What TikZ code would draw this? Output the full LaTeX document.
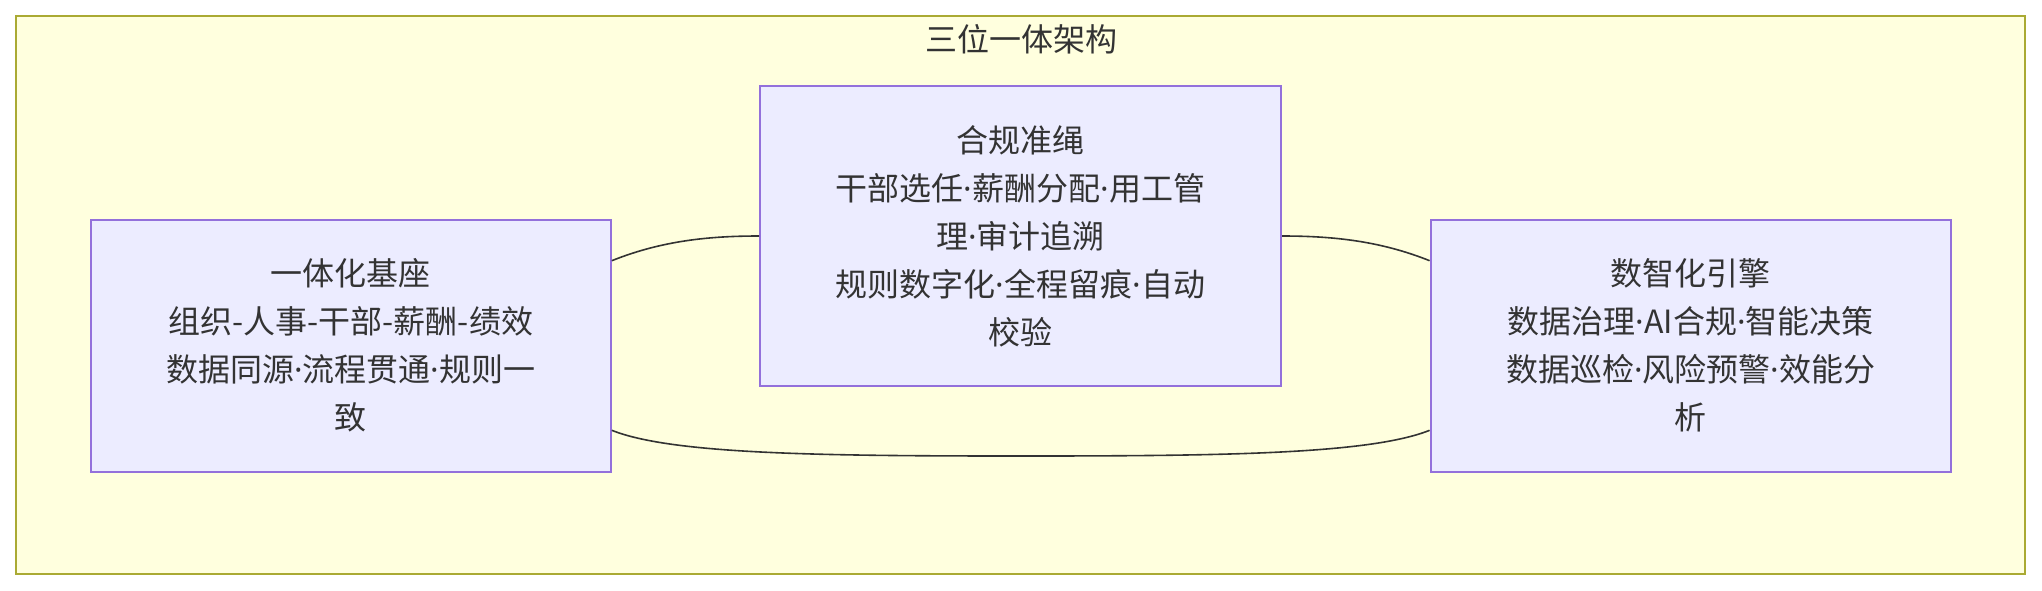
\documentclass[tikz,border=0pt]{standalone}
\usepackage{fontspec}
\setmainfont{Noto Sans CJK SC}
\newfontfamily\latinfont{Noto Sans}
\usepackage{xcolor}
\usetikzlibrary{positioning}
\definecolor{framefill}{HTML}{FFFFDE}
\definecolor{framedraw}{HTML}{AAAA33}
\definecolor{boxfill}{HTML}{ECECFF}
\definecolor{boxdraw}{HTML}{9370DB}
\definecolor{ink}{HTML}{333333}
\newcommand{\mdot}{{\latinfont ·}}
\begin{document}
\begin{tikzpicture}[x=0.5pt, y=-0.5pt,
        cluster/.style={draw=framedraw, fill=framefill, line width=1pt, inner sep=0pt},
        block/.style={draw=boxdraw, fill=boxfill, line width=1pt, text=ink, align=center,
            font=\fontsize{16}{24}\selectfont, inner sep=0pt},
        link/.style={draw=ink, line width=0.8pt}]
                        \useasboundingbox (0, 0) rectangle (2042, 590);
                        \node[cluster, minimum width=1004.8pt, minimum height=279pt] (frame) at (1020.6, 295) {};
                        \node[text=ink, font=\fontsize{16}{24}\selectfont] (title) at (1021, 39) {三位一体架构};
                        \node[block, minimum width=260pt, minimum height=126pt] (base) at (350.8, 345.5)
                            {一体化基座\\组织-人事-干部-薪酬-绩效\\数据同源\mdot 流程贯通\mdot 规则一\\致};
                        \node[block, minimum width=260.5pt, minimum height=150pt] (rule) at (1020.5, 236)
                            {合规准绳\\干部选任\mdot 薪酬分配\mdot 用工管\\理\mdot 审计追溯\\规则数字化\mdot 全程留痕\mdot 自动\\校验};
                        \node[block, minimum width=260pt, minimum height=126pt] (engine) at (1690.6, 345.5)
                            {数智化引擎\\数据治理\mdot AI合规\mdot 智能决策\\数据巡检\mdot 风险预警\mdot 效能分\\析};
                        \coordinate (low) at (1021, 456);
                        \draw[link] (base.18) .. controls +(50, -20) and +(-50, 0) .. (rule.west);
                        \draw[link] (rule.east) .. controls +(50, 0) and +(-50, -20) .. (engine.162);
                        \draw[link] (base.-18) .. controls +(60, 24) and +(-200, 0) .. (low)
                            .. controls +(200, 0) and +(-60, 24) .. (engine.198);
                    \end{tikzpicture}
\end{document}
